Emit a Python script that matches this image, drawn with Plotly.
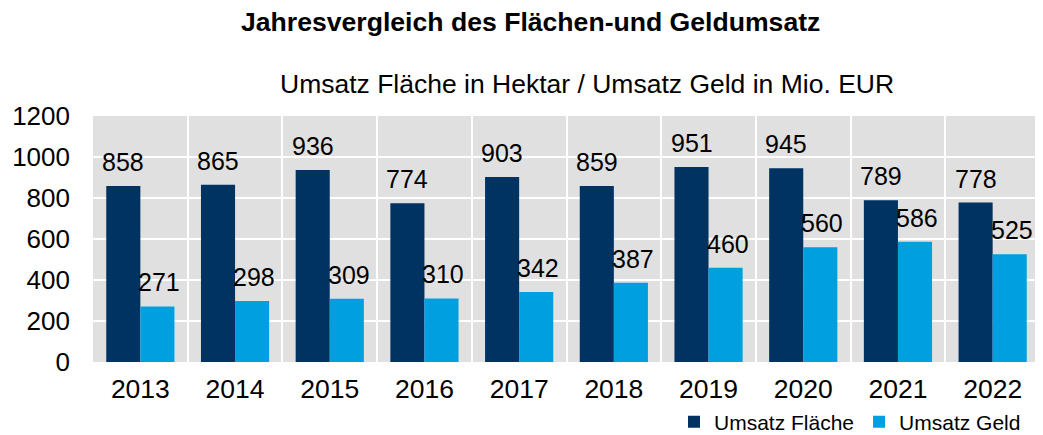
import plotly.graph_objects as go

years = ["2013", "2014", "2015", "2016", "2017", "2018", "2019", "2020", "2021", "2022"]
flaeche = [858, 865, 936, 774, 903, 859, 951, 945, 789, 778]
geld = [271, 298, 309, 310, 342, 387, 460, 560, 586, 525]

dark = "#003262"
light = "#009FDF"
font_family = "Liberation Sans, Arial, sans-serif"
FS = 25

fig = go.Figure()
fig.add_trace(go.Bar(x=years, y=flaeche, name="Umsatz Fläche", marker_color=dark,
                     marker_line_width=0))
fig.add_trace(go.Bar(x=years, y=geld, name="Umsatz Geld", marker_color=light,
                     marker_line_width=0))

for i, v in enumerate(flaeche):
    fig.add_annotation(x=i, y=v, text=str(v), showarrow=False, xshift=-17, yshift=8,
                       yanchor="bottom", font=dict(size=FS, color="#000000", family=font_family))
for i, v in enumerate(geld):
    fig.add_annotation(x=i, y=v, text=str(v), showarrow=False, xshift=19, yshift=8,
                       yanchor="bottom", font=dict(size=FS, color="#000000", family=font_family))

fig.add_annotation(xref="paper", yref="paper", x=(530 - 93) / 947, y=(362 - 22) / 246,
                   xanchor="center", yanchor="middle",
                   text="<b>Jahresvergleich des Flächen-und Geldumsatz</b>", showarrow=False,
                   font=dict(size=26.6, color="#000000", family=font_family))
fig.add_annotation(xref="paper", yref="paper", x=(587 - 93) / 947, y=(362 - 84) / 246,
                   xanchor="center", yanchor="middle",
                   text="Umsatz Fläche in Hektar / Umsatz Geld in Mio. EUR", showarrow=False,
                   font=dict(size=26.5, color="#000000", family=font_family))

fig.update_layout(
    width=1035, height=427,
    margin=dict(l=85, r=3, t=108, b=73, autoexpand=False),
    paper_bgcolor="white",
    plot_bgcolor="#E0E0E0",
    barmode="group",
    bargap=0.28,
    bargroupgap=0,
    font=dict(family=font_family, size=FS, color="#000000"),
    showlegend=True,
    legend=dict(orientation="h", xref="container", yref="container",
                x=666 / 1035, xanchor="left", y=(435 - 422) / 427, yanchor="middle",
                font=dict(size=21), traceorder="normal", itemwidth=30,
                bgcolor="rgba(0,0,0,0)"),
    xaxis=dict(type="category", tickson="boundaries", showgrid=True, gridcolor="white",
               gridwidth=2, ticks="", tickfont=dict(size=26.5), ticklabelstandoff=8),
    yaxis=dict(range=[0, 1200], dtick=200, showgrid=True, gridcolor="white", gridwidth=2,
               zeroline=False, ticks="", tickfont=dict(size=26), ticklabelstandoff=22),
)

fig.write_html("out.html")
